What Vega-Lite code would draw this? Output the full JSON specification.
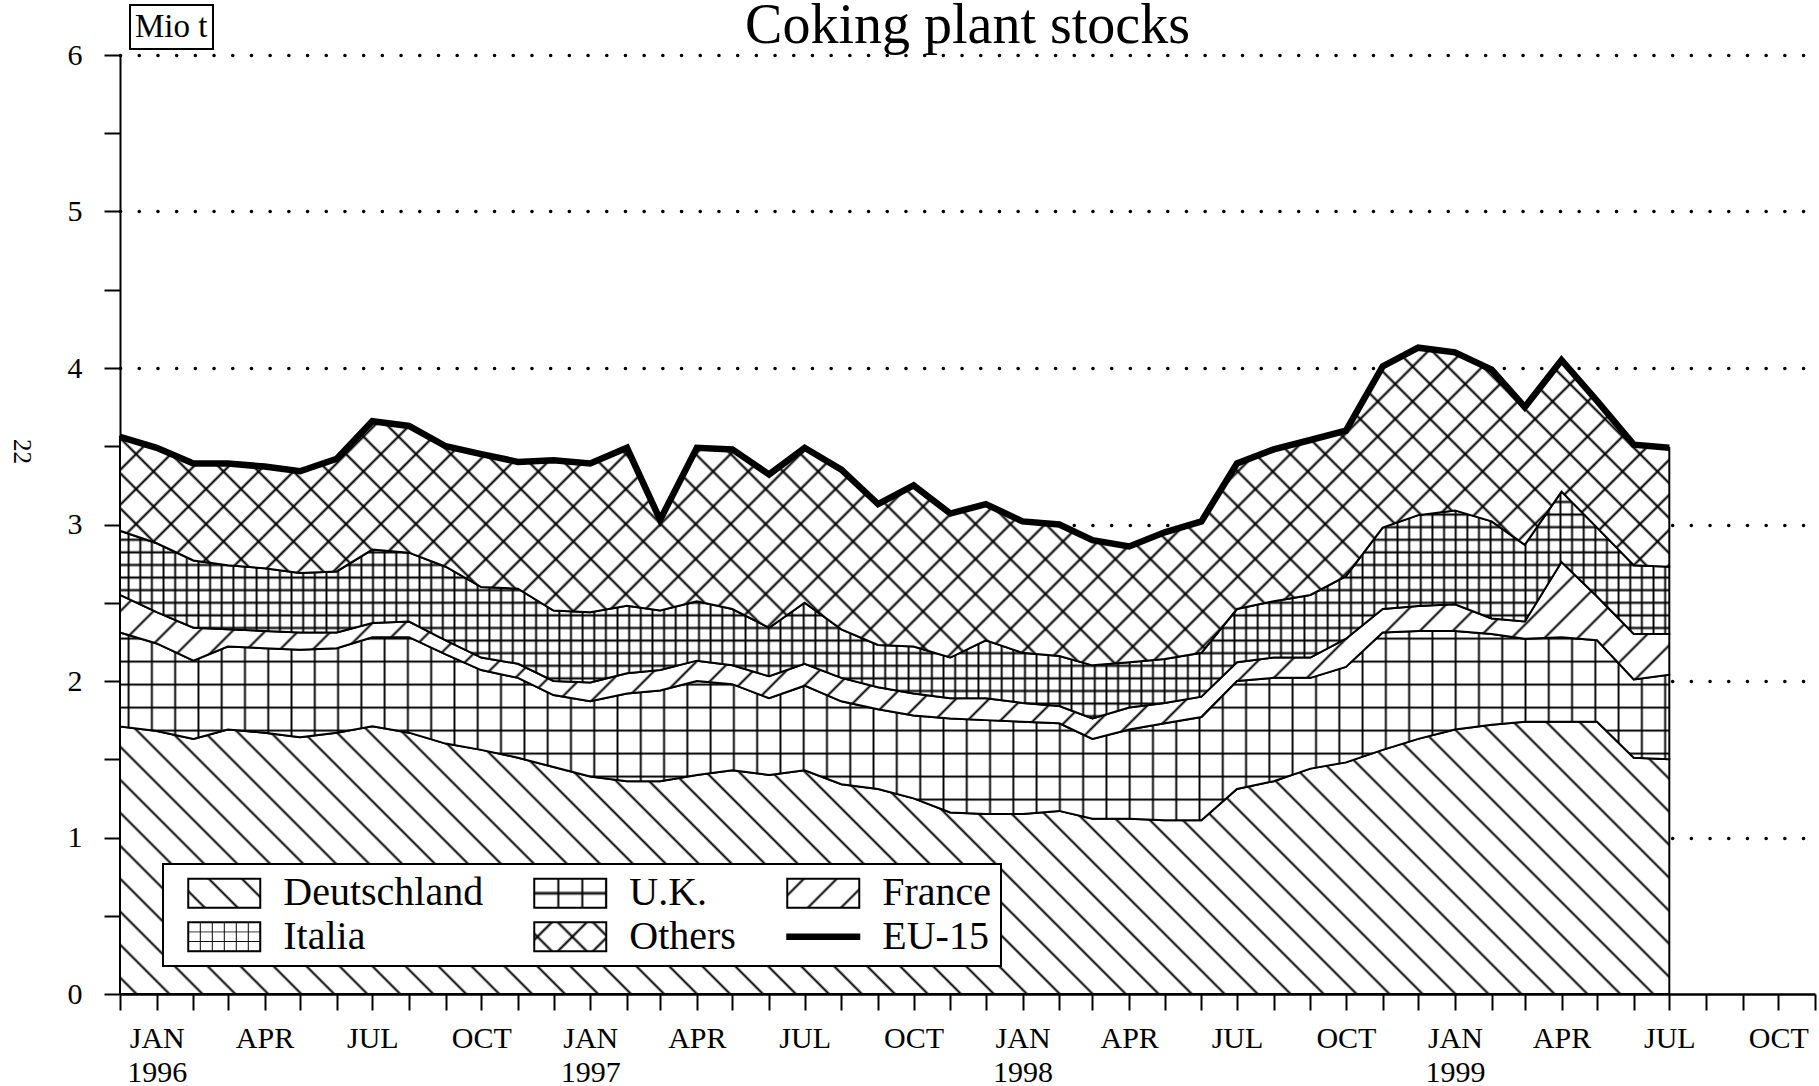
{
"$schema":"https://vega.github.io/schema/vega-lite/v6.json",
"width":1695,"height":939,
"autosize":{"type":"none"},
"padding":{"left":120,"top":55,"right":4,"bottom":92},
"background":"#ffffff",
"config":{"view":{"stroke":null},"font":"Liberation Serif","legend":{"strokeWidth":2}},
"params":[
{"name":"sd","value":[{"offset":0.0073,"color":"#0000"},{"offset":0.0088,"color":"#000"},{"offset":0.0103,"color":"#0000"},{"offset":0.0248,"color":"#0000"},{"offset":0.0263,"color":"#000"},{"offset":0.0278,"color":"#0000"},{"offset":0.0424,"color":"#0000"},{"offset":0.0439,"color":"#000"},{"offset":0.0454,"color":"#0000"},{"offset":0.0599,"color":"#0000"},{"offset":0.0614,"color":"#000"},{"offset":0.0629,"color":"#0000"},{"offset":0.0774,"color":"#0000"},{"offset":0.0789,"color":"#000"},{"offset":0.0804,"color":"#0000"},{"offset":0.095,"color":"#0000"},{"offset":0.0965,"color":"#000"},{"offset":0.098,"color":"#0000"},{"offset":0.1125,"color":"#0000"},{"offset":0.114,"color":"#000"},{"offset":0.1155,"color":"#0000"},{"offset":0.1301,"color":"#0000"},{"offset":0.1316,"color":"#000"},{"offset":0.1331,"color":"#0000"},{"offset":0.1476,"color":"#0000"},{"offset":0.1491,"color":"#000"},{"offset":0.1506,"color":"#0000"},{"offset":0.1652,"color":"#0000"},{"offset":0.1667,"color":"#000"},{"offset":0.1682,"color":"#0000"},{"offset":0.1827,"color":"#0000"},{"offset":0.1842,"color":"#000"},{"offset":0.1857,"color":"#0000"},{"offset":0.2003,"color":"#0000"},{"offset":0.2018,"color":"#000"},{"offset":0.2033,"color":"#0000"},{"offset":0.2178,"color":"#0000"},{"offset":0.2193,"color":"#000"},{"offset":0.2208,"color":"#0000"},{"offset":0.2353,"color":"#0000"},{"offset":0.2368,"color":"#000"},{"offset":0.2383,"color":"#0000"},{"offset":0.2529,"color":"#0000"},{"offset":0.2544,"color":"#000"},{"offset":0.2559,"color":"#0000"},{"offset":0.2704,"color":"#0000"},{"offset":0.2719,"color":"#000"},{"offset":0.2734,"color":"#0000"},{"offset":0.288,"color":"#0000"},{"offset":0.2895,"color":"#000"},{"offset":0.291,"color":"#0000"},{"offset":0.3055,"color":"#0000"},{"offset":0.307,"color":"#000"},{"offset":0.3085,"color":"#0000"},{"offset":0.3231,"color":"#0000"},{"offset":0.3246,"color":"#000"},{"offset":0.3261,"color":"#0000"},{"offset":0.3406,"color":"#0000"},{"offset":0.3421,"color":"#000"},{"offset":0.3436,"color":"#0000"},{"offset":0.3581,"color":"#0000"},{"offset":0.3596,"color":"#000"},{"offset":0.3611,"color":"#0000"},{"offset":0.3757,"color":"#0000"},{"offset":0.3772,"color":"#000"},{"offset":0.3787,"color":"#0000"},{"offset":0.3932,"color":"#0000"},{"offset":0.3947,"color":"#000"},{"offset":0.3962,"color":"#0000"},{"offset":0.4108,"color":"#0000"},{"offset":0.4123,"color":"#000"},{"offset":0.4138,"color":"#0000"},{"offset":0.4283,"color":"#0000"},{"offset":0.4298,"color":"#000"},{"offset":0.4313,"color":"#0000"},{"offset":0.4459,"color":"#0000"},{"offset":0.4474,"color":"#000"},{"offset":0.4489,"color":"#0000"},{"offset":0.4634,"color":"#0000"},{"offset":0.4649,"color":"#000"},{"offset":0.4664,"color":"#0000"},{"offset":0.481,"color":"#0000"},{"offset":0.4825,"color":"#000"},{"offset":0.484,"color":"#0000"},{"offset":0.4985,"color":"#0000"},{"offset":0.5,"color":"#000"},{"offset":0.5015,"color":"#0000"},{"offset":0.516,"color":"#0000"},{"offset":0.5175,"color":"#000"},{"offset":0.519,"color":"#0000"},{"offset":0.5336,"color":"#0000"},{"offset":0.5351,"color":"#000"},{"offset":0.5366,"color":"#0000"},{"offset":0.5511,"color":"#0000"},{"offset":0.5526,"color":"#000"},{"offset":0.5541,"color":"#0000"},{"offset":0.5687,"color":"#0000"},{"offset":0.5702,"color":"#000"},{"offset":0.5717,"color":"#0000"},{"offset":0.5862,"color":"#0000"},{"offset":0.5877,"color":"#000"},{"offset":0.5892,"color":"#0000"},{"offset":0.6038,"color":"#0000"},{"offset":0.6053,"color":"#000"},{"offset":0.6068,"color":"#0000"},{"offset":0.6213,"color":"#0000"},{"offset":0.6228,"color":"#000"},{"offset":0.6243,"color":"#0000"},{"offset":0.6389,"color":"#0000"},{"offset":0.6404,"color":"#000"},{"offset":0.6419,"color":"#0000"},{"offset":0.6564,"color":"#0000"},{"offset":0.6579,"color":"#000"},{"offset":0.6594,"color":"#0000"},{"offset":0.6739,"color":"#0000"},{"offset":0.6754,"color":"#000"},{"offset":0.6769,"color":"#0000"},{"offset":0.6915,"color":"#0000"},{"offset":0.693,"color":"#000"},{"offset":0.6945,"color":"#0000"},{"offset":0.709,"color":"#0000"},{"offset":0.7105,"color":"#000"},{"offset":0.712,"color":"#0000"},{"offset":0.7266,"color":"#0000"},{"offset":0.7281,"color":"#000"},{"offset":0.7296,"color":"#0000"},{"offset":0.7441,"color":"#0000"},{"offset":0.7456,"color":"#000"},{"offset":0.7471,"color":"#0000"},{"offset":0.7617,"color":"#0000"},{"offset":0.7632,"color":"#000"},{"offset":0.7647,"color":"#0000"},{"offset":0.7792,"color":"#0000"},{"offset":0.7807,"color":"#000"},{"offset":0.7822,"color":"#0000"},{"offset":0.7967,"color":"#0000"},{"offset":0.7982,"color":"#000"},{"offset":0.7997,"color":"#0000"},{"offset":0.8143,"color":"#0000"},{"offset":0.8158,"color":"#000"},{"offset":0.8173,"color":"#0000"},{"offset":0.8318,"color":"#0000"},{"offset":0.8333,"color":"#000"},{"offset":0.8348,"color":"#0000"},{"offset":0.8494,"color":"#0000"},{"offset":0.8509,"color":"#000"},{"offset":0.8524,"color":"#0000"},{"offset":0.8669,"color":"#0000"},{"offset":0.8684,"color":"#000"},{"offset":0.8699,"color":"#0000"},{"offset":0.8845,"color":"#0000"},{"offset":0.886,"color":"#000"},{"offset":0.8875,"color":"#0000"},{"offset":0.902,"color":"#0000"},{"offset":0.9035,"color":"#000"},{"offset":0.905,"color":"#0000"},{"offset":0.9196,"color":"#0000"},{"offset":0.9211,"color":"#000"},{"offset":0.9226,"color":"#0000"},{"offset":0.9371,"color":"#0000"},{"offset":0.9386,"color":"#000"},{"offset":0.9401,"color":"#0000"},{"offset":0.9546,"color":"#0000"},{"offset":0.9561,"color":"#000"},{"offset":0.9576,"color":"#0000"},{"offset":0.9722,"color":"#0000"},{"offset":0.9737,"color":"#000"},{"offset":0.9752,"color":"#0000"},{"offset":0.9897,"color":"#0000"},{"offset":0.9912,"color":"#000"},{"offset":0.9927,"color":"#0000"}]},
{"name":"sv","value":[{"offset":0.0062,"color":"#0000"},{"offset":0.0074,"color":"#000"},{"offset":0.0086,"color":"#0000"},{"offset":0.0209,"color":"#0000"},{"offset":0.0221,"color":"#000"},{"offset":0.0233,"color":"#0000"},{"offset":0.0356,"color":"#0000"},{"offset":0.0368,"color":"#000"},{"offset":0.038,"color":"#0000"},{"offset":0.0503,"color":"#0000"},{"offset":0.0515,"color":"#000"},{"offset":0.0527,"color":"#0000"},{"offset":0.065,"color":"#0000"},{"offset":0.0662,"color":"#000"},{"offset":0.0674,"color":"#0000"},{"offset":0.0797,"color":"#0000"},{"offset":0.0809,"color":"#000"},{"offset":0.0821,"color":"#0000"},{"offset":0.0944,"color":"#0000"},{"offset":0.0956,"color":"#000"},{"offset":0.0968,"color":"#0000"},{"offset":0.1091,"color":"#0000"},{"offset":0.1103,"color":"#000"},{"offset":0.1115,"color":"#0000"},{"offset":0.1238,"color":"#0000"},{"offset":0.125,"color":"#000"},{"offset":0.1262,"color":"#0000"},{"offset":0.1385,"color":"#0000"},{"offset":0.1397,"color":"#000"},{"offset":0.1409,"color":"#0000"},{"offset":0.1532,"color":"#0000"},{"offset":0.1544,"color":"#000"},{"offset":0.1556,"color":"#0000"},{"offset":0.1679,"color":"#0000"},{"offset":0.1691,"color":"#000"},{"offset":0.1703,"color":"#0000"},{"offset":0.1826,"color":"#0000"},{"offset":0.1838,"color":"#000"},{"offset":0.185,"color":"#0000"},{"offset":0.1973,"color":"#0000"},{"offset":0.1985,"color":"#000"},{"offset":0.1997,"color":"#0000"},{"offset":0.212,"color":"#0000"},{"offset":0.2132,"color":"#000"},{"offset":0.2144,"color":"#0000"},{"offset":0.2267,"color":"#0000"},{"offset":0.2279,"color":"#000"},{"offset":0.2291,"color":"#0000"},{"offset":0.2414,"color":"#0000"},{"offset":0.2426,"color":"#000"},{"offset":0.2438,"color":"#0000"},{"offset":0.2562,"color":"#0000"},{"offset":0.2574,"color":"#000"},{"offset":0.2586,"color":"#0000"},{"offset":0.2709,"color":"#0000"},{"offset":0.2721,"color":"#000"},{"offset":0.2733,"color":"#0000"},{"offset":0.2856,"color":"#0000"},{"offset":0.2868,"color":"#000"},{"offset":0.288,"color":"#0000"},{"offset":0.3003,"color":"#0000"},{"offset":0.3015,"color":"#000"},{"offset":0.3027,"color":"#0000"},{"offset":0.315,"color":"#0000"},{"offset":0.3162,"color":"#000"},{"offset":0.3174,"color":"#0000"},{"offset":0.3297,"color":"#0000"},{"offset":0.3309,"color":"#000"},{"offset":0.3321,"color":"#0000"},{"offset":0.3444,"color":"#0000"},{"offset":0.3456,"color":"#000"},{"offset":0.3468,"color":"#0000"},{"offset":0.3591,"color":"#0000"},{"offset":0.3603,"color":"#000"},{"offset":0.3615,"color":"#0000"},{"offset":0.3738,"color":"#0000"},{"offset":0.375,"color":"#000"},{"offset":0.3762,"color":"#0000"},{"offset":0.3885,"color":"#0000"},{"offset":0.3897,"color":"#000"},{"offset":0.3909,"color":"#0000"},{"offset":0.4032,"color":"#0000"},{"offset":0.4044,"color":"#000"},{"offset":0.4056,"color":"#0000"},{"offset":0.4179,"color":"#0000"},{"offset":0.4191,"color":"#000"},{"offset":0.4203,"color":"#0000"},{"offset":0.4326,"color":"#0000"},{"offset":0.4338,"color":"#000"},{"offset":0.435,"color":"#0000"},{"offset":0.4473,"color":"#0000"},{"offset":0.4485,"color":"#000"},{"offset":0.4497,"color":"#0000"},{"offset":0.462,"color":"#0000"},{"offset":0.4632,"color":"#000"},{"offset":0.4644,"color":"#0000"},{"offset":0.4767,"color":"#0000"},{"offset":0.4779,"color":"#000"},{"offset":0.4791,"color":"#0000"},{"offset":0.4914,"color":"#0000"},{"offset":0.4926,"color":"#000"},{"offset":0.4938,"color":"#0000"},{"offset":0.5062,"color":"#0000"},{"offset":0.5074,"color":"#000"},{"offset":0.5086,"color":"#0000"},{"offset":0.5209,"color":"#0000"},{"offset":0.5221,"color":"#000"},{"offset":0.5233,"color":"#0000"},{"offset":0.5356,"color":"#0000"},{"offset":0.5368,"color":"#000"},{"offset":0.538,"color":"#0000"},{"offset":0.5503,"color":"#0000"},{"offset":0.5515,"color":"#000"},{"offset":0.5527,"color":"#0000"},{"offset":0.565,"color":"#0000"},{"offset":0.5662,"color":"#000"},{"offset":0.5674,"color":"#0000"},{"offset":0.5797,"color":"#0000"},{"offset":0.5809,"color":"#000"},{"offset":0.5821,"color":"#0000"},{"offset":0.5944,"color":"#0000"},{"offset":0.5956,"color":"#000"},{"offset":0.5968,"color":"#0000"},{"offset":0.6091,"color":"#0000"},{"offset":0.6103,"color":"#000"},{"offset":0.6115,"color":"#0000"},{"offset":0.6238,"color":"#0000"},{"offset":0.625,"color":"#000"},{"offset":0.6262,"color":"#0000"},{"offset":0.6385,"color":"#0000"},{"offset":0.6397,"color":"#000"},{"offset":0.6409,"color":"#0000"},{"offset":0.6532,"color":"#0000"},{"offset":0.6544,"color":"#000"},{"offset":0.6556,"color":"#0000"},{"offset":0.6679,"color":"#0000"},{"offset":0.6691,"color":"#000"},{"offset":0.6703,"color":"#0000"},{"offset":0.6826,"color":"#0000"},{"offset":0.6838,"color":"#000"},{"offset":0.685,"color":"#0000"},{"offset":0.6973,"color":"#0000"},{"offset":0.6985,"color":"#000"},{"offset":0.6997,"color":"#0000"},{"offset":0.712,"color":"#0000"},{"offset":0.7132,"color":"#000"},{"offset":0.7144,"color":"#0000"},{"offset":0.7267,"color":"#0000"},{"offset":0.7279,"color":"#000"},{"offset":0.7291,"color":"#0000"},{"offset":0.7414,"color":"#0000"},{"offset":0.7426,"color":"#000"},{"offset":0.7438,"color":"#0000"},{"offset":0.7562,"color":"#0000"},{"offset":0.7574,"color":"#000"},{"offset":0.7586,"color":"#0000"},{"offset":0.7709,"color":"#0000"},{"offset":0.7721,"color":"#000"},{"offset":0.7733,"color":"#0000"},{"offset":0.7856,"color":"#0000"},{"offset":0.7868,"color":"#000"},{"offset":0.788,"color":"#0000"},{"offset":0.8003,"color":"#0000"},{"offset":0.8015,"color":"#000"},{"offset":0.8027,"color":"#0000"},{"offset":0.815,"color":"#0000"},{"offset":0.8162,"color":"#000"},{"offset":0.8174,"color":"#0000"},{"offset":0.8297,"color":"#0000"},{"offset":0.8309,"color":"#000"},{"offset":0.8321,"color":"#0000"},{"offset":0.8444,"color":"#0000"},{"offset":0.8456,"color":"#000"},{"offset":0.8468,"color":"#0000"},{"offset":0.8591,"color":"#0000"},{"offset":0.8603,"color":"#000"},{"offset":0.8615,"color":"#0000"},{"offset":0.8738,"color":"#0000"},{"offset":0.875,"color":"#000"},{"offset":0.8762,"color":"#0000"},{"offset":0.8885,"color":"#0000"},{"offset":0.8897,"color":"#000"},{"offset":0.8909,"color":"#0000"},{"offset":0.9032,"color":"#0000"},{"offset":0.9044,"color":"#000"},{"offset":0.9056,"color":"#0000"},{"offset":0.9179,"color":"#0000"},{"offset":0.9191,"color":"#000"},{"offset":0.9203,"color":"#0000"},{"offset":0.9326,"color":"#0000"},{"offset":0.9338,"color":"#000"},{"offset":0.935,"color":"#0000"},{"offset":0.9473,"color":"#0000"},{"offset":0.9485,"color":"#000"},{"offset":0.9497,"color":"#0000"},{"offset":0.962,"color":"#0000"},{"offset":0.9632,"color":"#000"},{"offset":0.9644,"color":"#0000"},{"offset":0.9767,"color":"#0000"},{"offset":0.9779,"color":"#000"},{"offset":0.9791,"color":"#0000"},{"offset":0.9914,"color":"#0000"},{"offset":0.9926,"color":"#000"},{"offset":0.9938,"color":"#0000"}]},
{"name":"sh","value":[{"offset":0.0415,"color":"#0000"},{"offset":0.05,"color":"#000"},{"offset":0.0585,"color":"#0000"},{"offset":0.1415,"color":"#0000"},{"offset":0.15,"color":"#000"},{"offset":0.1585,"color":"#0000"},{"offset":0.2415,"color":"#0000"},{"offset":0.25,"color":"#000"},{"offset":0.2585,"color":"#0000"},{"offset":0.3415,"color":"#0000"},{"offset":0.35,"color":"#000"},{"offset":0.3585,"color":"#0000"},{"offset":0.4415,"color":"#0000"},{"offset":0.45,"color":"#000"},{"offset":0.4585,"color":"#0000"},{"offset":0.5415,"color":"#0000"},{"offset":0.55,"color":"#000"},{"offset":0.5585,"color":"#0000"},{"offset":0.6415,"color":"#0000"},{"offset":0.65,"color":"#000"},{"offset":0.6585,"color":"#0000"},{"offset":0.7415,"color":"#0000"},{"offset":0.75,"color":"#000"},{"offset":0.7585,"color":"#0000"},{"offset":0.8415,"color":"#0000"},{"offset":0.85,"color":"#000"},{"offset":0.8585,"color":"#0000"},{"offset":0.9415,"color":"#0000"},{"offset":0.95,"color":"#000"},{"offset":0.9585,"color":"#0000"}]}
],
"data":{"values":[
{"date":"1995-12-01","Deutschland":1.71,"UK":0.60,"France":0.24,"Italia":0.41,"Others":0.60},
{"date":"1996-01-01","Deutschland":1.68,"UK":0.56,"France":0.20,"Italia":0.44,"Others":0.61},
{"date":"1996-02-01","Deutschland":1.63,"UK":0.50,"France":0.21,"Italia":0.43,"Others":0.62},
{"date":"1996-03-01","Deutschland":1.69,"UK":0.53,"France":0.11,"Italia":0.41,"Others":0.65},
{"date":"1996-04-01","Deutschland":1.67,"UK":0.54,"France":0.11,"Italia":0.40,"Others":0.65},
{"date":"1996-05-01","Deutschland":1.64,"UK":0.56,"France":0.11,"Italia":0.38,"Others":0.65},
{"date":"1996-06-01","Deutschland":1.67,"UK":0.54,"France":0.10,"Italia":0.39,"Others":0.72},
{"date":"1996-07-01","Deutschland":1.71,"UK":0.57,"France":0.09,"Italia":0.47,"Others":0.82},
{"date":"1996-08-01","Deutschland":1.67,"UK":0.61,"France":0.10,"Italia":0.44,"Others":0.81},
{"date":"1996-09-01","Deutschland":1.60,"UK":0.57,"France":0.09,"Italia":0.47,"Others":0.77},
{"date":"1996-10-01","Deutschland":1.56,"UK":0.51,"France":0.08,"Italia":0.45,"Others":0.85},
{"date":"1996-11-01","Deutschland":1.51,"UK":0.51,"France":0.09,"Italia":0.48,"Others":0.81},
{"date":"1996-12-01","Deutschland":1.45,"UK":0.46,"France":0.09,"Italia":0.45,"Others":0.96},
{"date":"1997-01-01","Deutschland":1.39,"UK":0.48,"France":0.12,"Italia":0.45,"Others":0.95},
{"date":"1997-02-01","Deutschland":1.36,"UK":0.56,"France":0.13,"Italia":0.43,"Others":1.01},
{"date":"1997-03-01","Deutschland":1.36,"UK":0.58,"France":0.13,"Italia":0.38,"Others":0.58},
{"date":"1997-04-01","Deutschland":1.40,"UK":0.60,"France":0.13,"Italia":0.38,"Others":0.98},
{"date":"1997-05-01","Deutschland":1.43,"UK":0.55,"France":0.12,"Italia":0.36,"Others":1.02},
{"date":"1997-06-01","Deutschland":1.40,"UK":0.49,"France":0.14,"Italia":0.31,"Others":0.98},
{"date":"1997-07-01","Deutschland":1.43,"UK":0.54,"France":0.14,"Italia":0.39,"Others":0.99},
{"date":"1997-08-01","Deutschland":1.34,"UK":0.53,"France":0.15,"Italia":0.31,"Others":1.02},
{"date":"1997-09-01","Deutschland":1.31,"UK":0.51,"France":0.14,"Italia":0.27,"Others":0.90},
{"date":"1997-10-01","Deutschland":1.25,"UK":0.53,"France":0.14,"Italia":0.30,"Others":1.03},
{"date":"1997-11-01","Deutschland":1.16,"UK":0.60,"France":0.13,"Italia":0.26,"Others":0.92},
{"date":"1997-12-01","Deutschland":1.15,"UK":0.60,"France":0.14,"Italia":0.37,"Others":0.87},
{"date":"1998-01-01","Deutschland":1.15,"UK":0.59,"France":0.12,"Italia":0.32,"Others":0.84},
{"date":"1998-02-01","Deutschland":1.17,"UK":0.56,"France":0.11,"Italia":0.32,"Others":0.84},
{"date":"1998-03-01","Deutschland":1.12,"UK":0.51,"France":0.13,"Italia":0.34,"Others":0.80},
{"date":"1998-04-01","Deutschland":1.12,"UK":0.57,"France":0.14,"Italia":0.29,"Others":0.74},
{"date":"1998-05-01","Deutschland":1.11,"UK":0.62,"France":0.13,"Italia":0.28,"Others":0.81},
{"date":"1998-06-01","Deutschland":1.11,"UK":0.66,"France":0.13,"Italia":0.28,"Others":0.84},
{"date":"1998-07-01","Deutschland":1.31,"UK":0.69,"France":0.12,"Italia":0.34,"Others":0.93},
{"date":"1998-08-01","Deutschland":1.36,"UK":0.66,"France":0.13,"Italia":0.36,"Others":0.97},
{"date":"1998-09-01","Deutschland":1.44,"UK":0.58,"France":0.13,"Italia":0.40,"Others":0.99},
{"date":"1998-10-01","Deutschland":1.48,"UK":0.61,"France":0.18,"Italia":0.40,"Others":0.93},
{"date":"1998-11-01","Deutschland":1.56,"UK":0.75,"France":0.15,"Italia":0.52,"Others":1.03},
{"date":"1998-12-01","Deutschland":1.63,"UK":0.69,"France":0.16,"Italia":0.58,"Others":1.07},
{"date":"1999-01-01","Deutschland":1.69,"UK":0.63,"France":0.17,"Italia":0.60,"Others":1.01},
{"date":"1999-02-01","Deutschland":1.72,"UK":0.58,"France":0.10,"Italia":0.62,"Others":0.97},
{"date":"1999-03-01","Deutschland":1.74,"UK":0.53,"France":0.11,"Italia":0.49,"Others":0.88},
{"date":"1999-04-01","Deutschland":1.74,"UK":0.54,"France":0.48,"Italia":0.45,"Others":0.84},
{"date":"1999-05-01","Deutschland":1.74,"UK":0.52,"France":0.28,"Italia":0.44,"Others":0.81},
{"date":"1999-06-01","Deutschland":1.51,"UK":0.50,"France":0.29,"Italia":0.44,"Others":0.77},
{"date":"1999-07-01","Deutschland":1.50,"UK":0.54,"France":0.26,"Italia":0.43,"Others":0.76}
]},
"transform":[
{"fold":["Deutschland","UK","France","Italia","Others"],"as":["country","value"]},
{"stack":"value","groupby":["date"],"as":["y0","y1"]}
],
"encoding":{
"x":{"field":"date","type":"temporal","scale":{"type":"utc","domain":[{"year":1995,"month":12,"date":1,"utc":true},{"year":1999,"month":11,"date":1,"utc":true}],"nice":false},
"axis":{"title":"22","titleX":-99,"titleY":-543,"titleAngle":90,"titleAlign":"center","titleBaseline":"middle","titleFont":"Liberation Serif","titleFontSize":25,"titleFontWeight":"normal","titleColor":"#000","tickCount":{"interval":"month","step":1},"labelExpr":"utcmonth(datum.value)%3?'':[upper(utcFormat(datum.value,'%b')),utcmonth(datum.value)?'':utcFormat(datum.value,'%Y')]","labelFont":"Liberation Serif","labelFontSize":30,"labelColor":"#000","labelLineHeight":34,"labelPadding":13,"labelOverlap":false,"labelFlush":false,"labelBound":false,"labelAlign":"center","labelBaseline":"top","domainColor":"#000","domainWidth":2.5,"tickColor":"#000","tickWidth":2,"tickSize":16,"grid":false}},
"y":{"field":"y1","type":"quantitative","scale":{"domain":[0,6],"nice":false},
"axis":{"title":"Coking plant stocks","titleAngle":0,"titleX":847,"titleY":-13,"titleAlign":"center","titleBaseline":"alphabetic","titleFont":"Liberation Serif","titleFontSize":56,"titleFontWeight":"normal","titleColor":"#000","values":[0,0.5,1,1.5,2,2.5,3,3.5,4,4.5,5,5.5,6],"labelExpr":"datum.value%1?'':''+datum.value","grid":true,"gridColor":"#000","gridWidth":3.5,"gridDash":[0.1,18.6],"gridCap":"round","gridOpacity":{"condition":{"test":"datum.value%1!==0||datum.value===0","value":0},"value":1},"domainColor":"#000","domainWidth":2,"tickColor":"#000","tickWidth":2,"tickSize":16,"labelFont":"Liberation Serif","labelFontSize":30,"labelColor":"#000","labelPadding":22}}
},
"layer":[
{"transform":[{"filter":"datum.country==='Deutschland'"}],"mark":{"type":"area","fill":"#fff","stroke":"#000","strokeWidth":2},"encoding":{"y2":{"field":"y0"}}},
{"transform":[{"filter":"datum.country==='Deutschland'"}],"mark":{"type":"area","fill":{"expr":"{gradient:'linear',x1:0,y1:1,x2:1.1769,y2:0.7933,stops:sd}"}},"encoding":{"y2":{"field":"y0"}}},
{"transform":[{"filter":"datum.country==='UK'"}],"mark":{"type":"area","fill":"#fff","stroke":"#000","strokeWidth":2},"encoding":{"y2":{"field":"y0"}}},
{"transform":[{"filter":"datum.country==='UK'"}],"mark":{"type":"area","fill":{"expr":"{gradient:'linear',x1:-0.002,y1:0,x2:1.0199,y2:0,stops:sv}"}},"encoding":{"y2":{"field":"y0"}}},
{"transform":[{"filter":"datum.country==='UK'"}],"mark":{"type":"area","fill":{"expr":"{gradient:'linear',x1:0,y1:-0.02,x2:0,y2:1.1944,stops:sh}"}},"encoding":{"y2":{"field":"y0"}}},
{"transform":[{"filter":"datum.country==='France'"}],"mark":{"type":"area","fill":"#fff","stroke":"#000","strokeWidth":2},"encoding":{"y2":{"field":"y0"}}},
{"transform":[{"filter":"datum.country==='France'"}],"mark":{"type":"area","fill":{"expr":"{gradient:'linear',x1:0,y1:0,x2:1.1977,y2:0.1366,stops:sd}"}},"encoding":{"y2":{"field":"y0"}}},
{"transform":[{"filter":"datum.country==='Italia'"}],"mark":{"type":"area","fill":"#fff","stroke":"#000","strokeWidth":2},"encoding":{"y2":{"field":"y0"}}},
{"transform":[{"filter":"datum.country==='Italia'"}],"mark":{"type":"area","fill":{"expr":"{gradient:'linear',x1:-0.002,y1:0,x2:1.0199,y2:0,stops:sv}"}},"encoding":{"y2":{"field":"y0"}}},
{"transform":[{"filter":"datum.country==='Italia'"}],"mark":{"type":"area","fill":{"expr":"{gradient:'linear',x1:-0.0095,y1:0,x2:1.0124,y2:0,stops:sv}"}},"encoding":{"y2":{"field":"y0"}}},
{"transform":[{"filter":"datum.country==='Italia'"}],"mark":{"type":"area","fill":{"expr":"{gradient:'linear',x1:0,y1:-0.01,x2:0,y2:1.1006,stops:sh}"}},"encoding":{"y2":{"field":"y0"}}},
{"transform":[{"filter":"datum.country==='Italia'"}],"mark":{"type":"area","fill":{"expr":"{gradient:'linear',x1:0,y1:-0.0655,x2:0,y2:1.0451,stops:sh}"}},"encoding":{"y2":{"field":"y0"}}},
{"transform":[{"filter":"datum.country==='Others'"}],"mark":{"type":"area","fill":"#fff","stroke":"#000","strokeWidth":2},"encoding":{"y2":{"field":"y0"}}},
{"transform":[{"filter":"datum.country==='Others'"}],"mark":{"type":"area","fill":{"expr":"{gradient:'linear',x1:0,y1:1,x2:1.2349,y2:0.7469,stops:sd}"}},"encoding":{"y2":{"field":"y0"}}},
{"transform":[{"filter":"datum.country==='Others'"}],"mark":{"type":"area","fill":{"expr":"{gradient:'linear',x1:0,y1:0,x2:1.2349,y2:0.2531,stops:sd}"}},"encoding":{"y2":{"field":"y0"}}},
{"transform":[{"filter":"datum.country==='Others'"}],"mark":{"type":"line","strokeWidth":6.5,"strokeJoin":"miter","color":"#000"},"encoding":{}},
{"data":{"values":[{}]},"mark":{"type":"point","opacity":0,"filled":true},
"encoding":{"x":{"value":0},"y":{"value":0},
"fill":{"datum":"Deutschland","type":"nominal","scale":{"domain":["Deutschland","U.K.","France","Italia","Others","EU-15"],"range":[{"expr":"{gradient:'linear',x1:0,y1:1,x2:22.52,y2:-8.01,stops:sd}"},{"expr":"{gradient:'linear',x1:0.1667,y1:0,x2:22.833,y2:0,stops:sv}"},{"expr":"{gradient:'linear',x1:0,y1:0,x2:22.52,y2:9.01,stops:sd}"},{"expr":"{gradient:'linear',x1:0.0833,y1:0,x2:11.4167,y2:0,stops:sv}"},{"expr":"{gradient:'linear',x1:0,y1:1,x2:23.89,y2:-8.556,stops:sd}"},"#000"]},
"legend":{"title":null,"orient":"none","direction":"horizontal","legendX":43,"legendY":809,"columns":3,"columnPadding":35,"rowPadding":3.5,"padding":9.25,"symbolType":"M-2,-0.8H2V0.8H-2Z","symbolSize":1296,"symbolOffset":32,"symbolStrokeWidth":2,"symbolStrokeColor":"#000","symbolOpacity":1,"labelFont":"Liberation Serif","labelFontSize":40,"labelColor":"#000","labelOffset":39,"labelLimit":0,"fillColor":"#fff","strokeColor":"#000","zindex":1}},
"shape":{"datum":"Deutschland","type":"nominal","scale":{"domain":["Deutschland","U.K.","France","Italia","Others","EU-15"],"range":["M-2,-0.8H2V0.8H-2Z","M-2,-0.8H2V0.8H-2Z","M-2,-0.8H2V0.8H-2Z","M-2,-0.8H2V0.8H-2Z","M-2,-0.8H2V0.8H-2Z","M-2,-0.12H2V0.12H-2Z"]},"legend":{"title":null}},
"stroke":{"datum":"Deutschland","type":"nominal","scale":{"domain":["Deutschland","U.K.","France","Italia","Others","EU-15"],"range":["#000","#000","#000","#000","#000","#000"]},"legend":{"title":null}},
"strokeDash":{"datum":"Mio t","type":"nominal",
"legend":{"title":null,"orient":"none","legendX":10,"legendY":-50,"padding":5,"symbolSize":0,"symbolOpacity":0,"symbolStrokeWidth":0,"labelFont":"Liberation Serif","labelFontSize":33,"labelColor":"#000","labelOffset":-33,"labelLimit":0,"strokeColor":"#000","fillColor":"#fff","zindex":1}}}},
{"data":{"values":[{}]},"mark":{"type":"point","opacity":0,"filled":true},
"encoding":{"x":{"value":0},"y":{"value":0},
"color":{"datum":"Deutschland~","type":"nominal","scale":{"domain":["Deutschland~","U.K.~","France~","Italia~","Others~","EU-15~"],"range":["transparent",{"expr":"{gradient:'linear',x1:0,y1:-0.0208,x2:0,y2:10.396,stops:sh}"},"transparent",{"expr":"{gradient:'linear',x1:0,y1:0.1667,x2:0,y2:3.5,stops:sh}"},{"expr":"{gradient:'linear',x1:0,y1:0,x2:23.89,y2:9.556,stops:sd}"},"transparent"]},
"legend":{"title":null,"orient":"none","direction":"horizontal","legendX":43,"legendY":809,"columns":3,"columnPadding":35,"rowPadding":3.5,"padding":9.25,"symbolType":"M-2,-0.8H2V0.8H-2Z","symbolSize":1296,"symbolOffset":32,"symbolStrokeWidth":2,"symbolStrokeColor":"transparent","symbolOpacity":1,"labelFont":"Liberation Serif","labelFontSize":40,"labelOpacity":0,"labelOffset":39,"labelLimit":0,"labelExpr":"replace(datum.label,'~','')","zindex":2}}}}
]
}
